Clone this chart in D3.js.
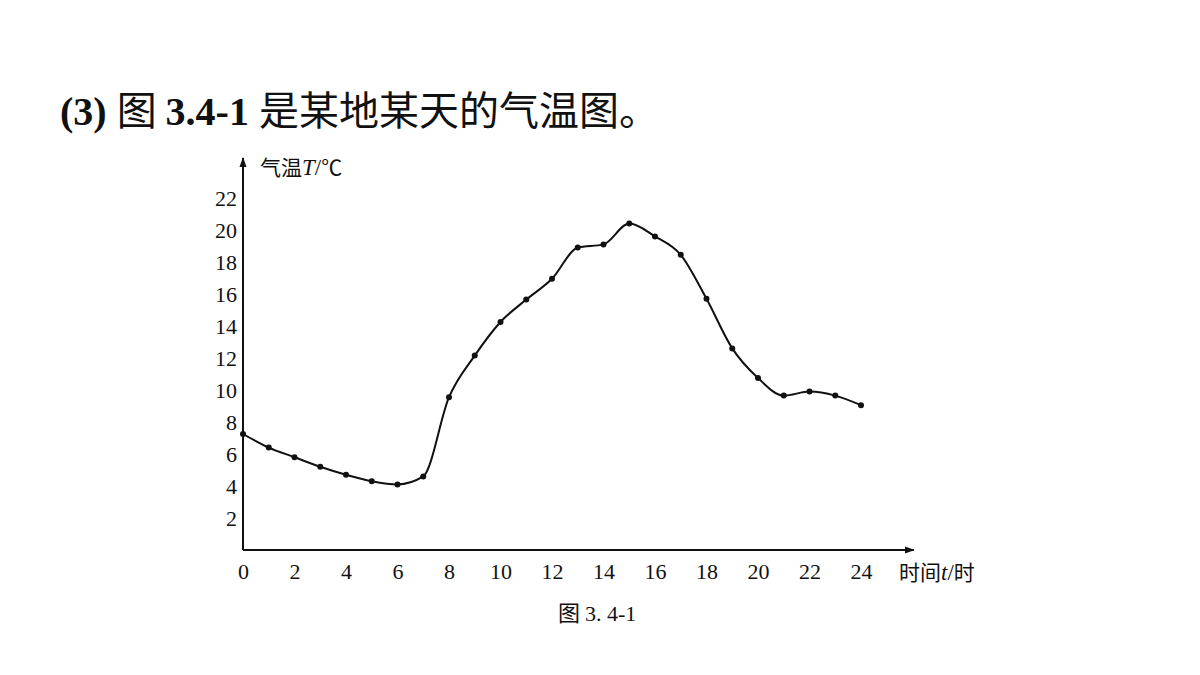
<!DOCTYPE html>
<html lang="zh">
<head>
<meta charset="UTF-8">
<title>气温图</title>
<script src="https://d3js.org/d3.v7.min.js"></script>
<style>
    body { margin: 0; background: #fff; }
    svg { display: block; }
    .num { font-family: "Liberation Serif", "DejaVu Serif", serif; }
    .cjk { font-family: "Noto Sans CJK SC", sans-serif; }
</style>
</head>
<body>
<div id="chart"></div>
<script>
    // hours and temperature readings
    const hours = [0, 1, 2, 3, 4, 5, 6, 7, 8, 9, 10, 11, 12, 13, 14, 15, 16, 17, 18, 19, 20, 21, 22, 23, 24];
    const temps = [7.25, 6.4, 5.8, 5.2, 4.7, 4.3, 4.1, 4.6, 9.55, 12.15, 14.25, 15.65, 16.95, 18.9, 19.1, 20.4, 19.6, 18.45, 15.7, 12.6, 10.75, 9.65, 9.9, 9.65, 9.05];
    const xTicks = [0, 2, 4, 6, 8, 10, 12, 14, 16, 18, 20, 22, 24];
    const yTicks = [2, 4, 6, 8, 10, 12, 14, 16, 18, 20, 22];

    const data = hours.map((h, i) => ({ t: h, T: temps[i] }));

    const width = 1200, height = 675;

    const svg = d3.select("#chart").append("svg")
        .attr("width", width)
        .attr("height", height);

    const x = d3.scaleLinear().domain([0, 24]).range([243, 861]);
    const y = d3.scaleLinear().domain([0, 22]).range([550, 198]);

    // title line
    const title = svg.append("text")
        .attr("x", 60)
        .attr("y", 125)
        .style("font-size", "40px")
        .style("fill", "#111");
    title.append("tspan").attr("class", "num").style("font-weight", "700").text("(3) ");
    title.append("tspan").attr("class", "cjk").text("图 ");
    title.append("tspan").attr("class", "num").style("font-weight", "700").text("3.4-1 ");
    title.append("tspan").attr("class", "cjk").text("是某地某天的气温图。");

    // arrow marker
    svg.append("defs").append("marker")
        .attr("id", "arrow")
        .attr("viewBox", "0 0 10 10")
        .attr("refX", 9)
        .attr("refY", 5)
        .attr("markerWidth", 10)
        .attr("markerHeight", 10)
        .attr("markerUnits", "userSpaceOnUse")
        .attr("orient", "auto")
        .append("path")
        .attr("d", "M0,1.5 L10,5 L0,8.5 Z")
        .style("fill", "#111");

    // axes lines
    svg.append("line")
        .attr("x1", x(0)).attr("y1", y(0))
        .attr("x2", x(26.05)).attr("y2", y(0))
        .style("stroke", "#111").style("stroke-width", 2)
        .attr("marker-end", "url(#arrow)");
    svg.append("line")
        .attr("x1", x(0)).attr("y1", y(0))
        .attr("x2", x(0)).attr("y2", y(24.5))
        .style("stroke", "#111").style("stroke-width", 2)
        .attr("marker-end", "url(#arrow)");

    // tick labels, no tick marks
    const xAxis = svg.append("g")
        .attr("transform", `translate(0, ${y(0)})`)
        .call(d3.axisBottom(x).tickValues(xTicks).tickSize(0).tickPadding(13));
    xAxis.select(".domain").remove();
    xAxis.selectAll("text")
        .attr("class", "num")
        .style("font-size", "22px")
        .style("fill", "#111");

    const yAxis = svg.append("g")
        .attr("transform", `translate(${x(0)}, 0)`)
        .call(d3.axisLeft(y).tickValues(yTicks).tickSize(0).tickPadding(6));
    yAxis.select(".domain").remove();
    yAxis.selectAll("text")
        .attr("class", "num")
        .style("font-size", "22px")
        .style("fill", "#111");

    // axis titles
    const yTitle = svg.append("text")
        .attr("x", 260)
        .attr("y", 175)
        .style("font-size", "21px")
        .style("fill", "#111");
    yTitle.append("tspan").attr("class", "cjk").text("气温");
    yTitle.append("tspan").attr("class", "num").style("font-style", "italic").style("font-size", "23px").text("T");
    yTitle.append("tspan").attr("class", "num").style("font-size", "23px").text("/");
    yTitle.append("tspan").attr("class", "cjk").text("℃");

    const xTitle = svg.append("text")
        .attr("x", 899)
        .attr("y", 580)
        .style("font-size", "21px")
        .style("fill", "#111");
    xTitle.append("tspan").attr("class", "cjk").text("时间");
    xTitle.append("tspan").attr("class", "num").style("font-style", "italic").style("font-size", "23px").text("t");
    xTitle.append("tspan").attr("class", "num").style("font-size", "23px").text("/");
    xTitle.append("tspan").attr("class", "cjk").text("时");

    // figure caption
    const cap = svg.append("text")
        .attr("x", 558)
        .attr("y", 621)
        .style("font-size", "22px")
        .style("fill", "#111");
    cap.append("tspan").attr("class", "cjk").text("图 ");
    cap.append("tspan").attr("class", "num").text("3. 4-1");

    // temperature curve
    const line = d3.line()
        .x(d => x(d.t))
        .y(d => y(d.T))
        .curve(d3.curveMonotoneX);

    svg.append("path")
        .datum(data)
        .attr("d", line)
        .style("fill", "none")
        .style("stroke", "#111")
        .style("stroke-width", 2);

    svg.append("g")
        .selectAll("circle")
        .data(data)
        .enter()
        .append("circle")
        .attr("cx", d => x(d.t))
        .attr("cy", d => y(d.T))
        .attr("r", 3)
        .style("fill", "#111");
</script>
</body>
</html>
